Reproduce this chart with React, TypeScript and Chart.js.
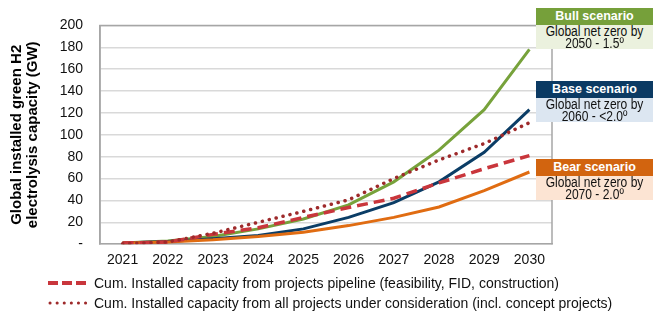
import React, { useEffect, useRef } from "react";
import { Chart, registerables } from "chart.js";

Chart.register(...registerables);

const years = ["2021", "2022", "2023", "2024", "2025", "2026", "2027", "2028", "2029", "2030"];
const bull = [1, 3, 7, 14, 23, 36, 57, 86, 123, 178];
const base = [1, 2.5, 5, 8, 14, 24.5, 38, 57, 84, 123];
const bear = [1, 2, 4, 7, 11, 17, 24.5, 34, 49, 66];
const pipeline = [1, 2, 9, 15, 24.5, 33.5, 42, 56, 69, 81];
const allProjects = [0.5, 2, 10, 20, 30, 40.5, 60, 77, 92, 111];
const yTicks = [0, 20, 40, 60, 80, 100, 120, 140, 160, 180, 200];

const legendLabels = [
  "Cum. Installed capacity from projects pipeline (feasibility, FID, construction)",
  "Cum. Installed capacity from all projects under consideration (incl. concept projects)",
];

const scenarios = [
  { title: "Bull scenario", line1: "Global net zero by", line2: "2050 - 1.5º", head: "#76a03a", body: "#ebf1de", top: 8 },
  { title: "Base scenario", line1: "Global net zero by", line2: "2060 - <2.0º", head: "#0b3a63", body: "#dce6f1", top: 81 },
  { title: "Bear scenario", line1: "Global net zero by", line2: "2070 - 2.0º", head: "#d2640f", body: "#fce4d3", top: 159 },
];

const FONT = "'Liberation Sans', Arial, sans-serif";

const framePlugin = {
  id: "frame",
  afterDraw(chart: any) {
    const { ctx, chartArea } = chart;
    ctx.save();
    ctx.strokeStyle = "#a6a6a6";
    ctx.lineWidth = 1.5;
    ctx.beginPath();
    ctx.moveTo(chartArea.left, chartArea.bottom);
    ctx.lineTo(chartArea.left, chartArea.top);
    ctx.lineTo(chartArea.right, chartArea.top);
    ctx.lineTo(chartArea.right, chartArea.bottom);
    ctx.stroke();
    ctx.restore();
  },
};

export default function App() {
  const ref = useRef<HTMLCanvasElement | null>(null);

  useEffect(() => {
    if (!ref.current) return;
    const chart = new Chart(ref.current, {
      type: "line",
      data: {
        labels: years,
        datasets: [
          {
            label: legendLabels[1],
            data: allProjects,
            borderColor: "#9e2a2b",
            borderWidth: 3.5,
            borderDash: [0.1, 7],
            borderCapStyle: "round",
            pointRadius: 0,
            tension: 0,
          },
          {
            label: legendLabels[0],
            data: pipeline,
            borderColor: "#c9363c",
            borderWidth: 3.5,
            borderDash: [11, 6],
            pointRadius: 0,
            tension: 0,
          },
          { label: "Bear", data: bear, borderColor: "#e06c12", borderWidth: 3, pointRadius: 0 },
          { label: "Base", data: base, borderColor: "#0b3d66", borderWidth: 3, pointRadius: 0 },
          { label: "Bull", data: bull, borderColor: "#77a23b", borderWidth: 3, pointRadius: 0 },
        ],
      },
      options: {
        responsive: false,
        animation: false,
        layout: { padding: { top: 22, right: 101, bottom: 45, left: 0 } },
        plugins: { legend: { display: false }, tooltip: { enabled: false } },
        scales: {
          x: {
            offset: true,
            grid: { display: false },
            border: { color: "#a6a6a6", width: 1.5 },
            ticks: { color: "#111", font: { family: FONT, size: 14 }, padding: 0, maxRotation: 0 },
          },
          y: {
            min: 0,
            max: 200,
            afterFit: (s: any) => {
              s.width = 100;
            },
            afterBuildTicks: (s: any) => {
              s.ticks = yTicks.map((v) => ({ value: v }));
            },
            grid: { color: "#d9d9d9", lineWidth: 1.5, drawTicks: false },
            border: { color: "#a6a6a6", width: 1.5 },
            ticks: {
              color: "#111",
              font: { family: FONT, size: 14 },
              padding: 17,
              callback: (v: any) => (Number(v) === 0 ? "-" : String(v)),
            },
            title: {
              display: true,
              text: ["Global installed green H2", "electrolysis capacity (GW)"],
              color: "#000",
              font: { family: FONT, size: 15, weight: "bold", lineHeight: 1.07 },
              padding: { top: 9, bottom: 0 },
            },
          },
        },
      },
      plugins: [framePlugin],
    });
    return () => chart.destroy();
  }, []);

  return (
    <div style={{ position: "fixed", left: 0, top: 0, width: 653, height: 314, background: "#fff", overflow: "hidden" }}>
      <canvas ref={ref} width={653} height={314} style={{ position: "absolute", left: 0, top: 0 }} />
      {scenarios.map((s) => (
        <div key={s.title} style={{ position: "absolute", left: 536, top: s.top, width: 117 }}>
          <div
            style={{
              background: s.head,
              color: "#fff",
              fontFamily: FONT,
              fontWeight: "bold",
              fontSize: 12.5,
              height: 17,
              lineHeight: "17px",
              textAlign: "center",
            }}
          >
            {s.title}
          </div>
          <div
            style={{
              background: s.body,
              color: "#111",
              fontFamily: FONT,
              fontSize: 14,
              height: 24,
              lineHeight: "12px",
              textAlign: "center",
            }}
          >
            <div style={{ transform: "scaleX(0.86)" }}>{s.line1}</div>
            <div style={{ transform: "scaleX(0.86)" }}>{s.line2}</div>
          </div>
        </div>
      ))}
      {legendLabels.map((t, i) => (
        <div
          key={t}
          style={{
            position: "absolute",
            left: 46,
            top: 274 + i * 20,
            height: 18,
            display: "flex",
            alignItems: "center",
            fontFamily: FONT,
            fontSize: 14,
            color: "#111",
            whiteSpace: "nowrap",
          }}
        >
          <svg width={44} height={8} style={{ marginRight: 4 }}>
            {i === 0 ? (
              <line x1={2} y1={4} x2={42} y2={4} stroke="#c9363c" strokeWidth={4} strokeDasharray="10 4" />
            ) : (
              <line x1={4} y1={4} x2={42} y2={4} stroke="#9e2a2b" strokeWidth={3} strokeDasharray="0.1 7" strokeLinecap="round" />
            )}
          </svg>
          <span>{t}</span>
        </div>
      ))}
    </div>
  );
}
